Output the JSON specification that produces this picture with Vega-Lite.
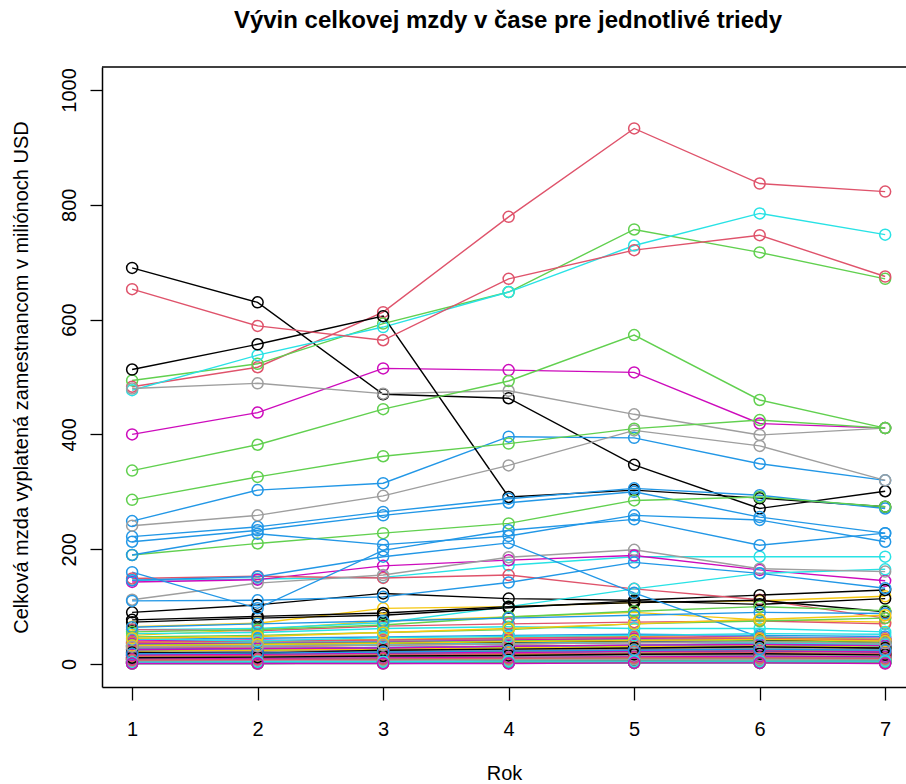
{
"$schema":"https://vega.github.io/schema/vega-lite/v6.json",
"width":804,"height":620,
"autosize":{"type":"none"},
"padding":{"left":102,"top":67,"right":0,"bottom":97},
"background":"white",
"title":{"text":"Vývin celkovej mzdy v čase pre jednotlivé triedy","font":"Liberation Sans","fontSize":24,"fontWeight":"bold","color":"black","anchor":"middle","offset":33,"dx":4},
"config":{"view":{"stroke":null},
"axis":{"grid":false,"domainColor":"black","domainWidth":1.5,"tickColor":"black","tickWidth":1.3,"labelColor":"black","titleColor":"black","labelFont":"Liberation Sans","titleFont":"Liberation Sans","labelFontSize":20,"titleFontSize":20,"titleFontWeight":"normal","labelFlush":false,"labelOverlap":false}},
"data":{"values":[
{"id":1,"rok":1,"mzda":690},{"id":1,"rok":2,"mzda":630},{"id":1,"rok":3,"mzda":470},{"id":1,"rok":4,"mzda":463},{"id":1,"rok":5,"mzda":347},{"id":1,"rok":6,"mzda":271},{"id":1,"rok":7,"mzda":301},
{"id":2,"rok":1,"mzda":483},{"id":2,"rok":2,"mzda":517},{"id":2,"rok":3,"mzda":613},{"id":2,"rok":4,"mzda":779},{"id":2,"rok":5,"mzda":933},{"id":2,"rok":6,"mzda":837},{"id":2,"rok":7,"mzda":823},
{"id":3,"rok":1,"mzda":494},{"id":3,"rok":2,"mzda":523},{"id":3,"rok":3,"mzda":593},{"id":3,"rok":4,"mzda":648},{"id":3,"rok":5,"mzda":757},{"id":3,"rok":6,"mzda":717},{"id":3,"rok":7,"mzda":671},
{"id":4,"rok":1,"mzda":249},{"id":4,"rok":2,"mzda":303},{"id":4,"rok":3,"mzda":315},{"id":4,"rok":4,"mzda":396},{"id":4,"rok":5,"mzda":394},{"id":4,"rok":6,"mzda":349},{"id":4,"rok":7,"mzda":320},
{"id":5,"rok":1,"mzda":477},{"id":5,"rok":2,"mzda":538},{"id":5,"rok":3,"mzda":587},{"id":5,"rok":4,"mzda":648},{"id":5,"rok":5,"mzda":729},{"id":5,"rok":6,"mzda":785},{"id":5,"rok":7,"mzda":748},
{"id":6,"rok":1,"mzda":400},{"id":6,"rok":2,"mzda":438},{"id":6,"rok":3,"mzda":515},{"id":6,"rok":4,"mzda":512},{"id":6,"rok":5,"mzda":508},{"id":6,"rok":6,"mzda":419},{"id":6,"rok":7,"mzda":411},
{"id":7,"rok":1,"mzda":65},{"id":7,"rok":2,"mzda":71},{"id":7,"rok":3,"mzda":97},{"id":7,"rok":4,"mzda":100},{"id":7,"rok":5,"mzda":107},{"id":7,"rok":6,"mzda":110},{"id":7,"rok":7,"mzda":118},
{"id":8,"rok":1,"mzda":480},{"id":8,"rok":2,"mzda":489},{"id":8,"rok":3,"mzda":471},{"id":8,"rok":4,"mzda":476},{"id":8,"rok":5,"mzda":435},{"id":8,"rok":6,"mzda":399},{"id":8,"rok":7,"mzda":411},
{"id":9,"rok":1,"mzda":513},{"id":9,"rok":2,"mzda":557},{"id":9,"rok":3,"mzda":606},{"id":9,"rok":4,"mzda":291},{"id":9,"rok":5,"mzda":303},{"id":9,"rok":6,"mzda":289},{"id":9,"rok":7,"mzda":274},
{"id":10,"rok":1,"mzda":653},{"id":10,"rok":2,"mzda":589},{"id":10,"rok":3,"mzda":564},{"id":10,"rok":4,"mzda":671},{"id":10,"rok":5,"mzda":721},{"id":10,"rok":6,"mzda":747},{"id":10,"rok":7,"mzda":675},
{"id":11,"rok":1,"mzda":337},{"id":11,"rok":2,"mzda":382},{"id":11,"rok":3,"mzda":444},{"id":11,"rok":4,"mzda":493},{"id":11,"rok":5,"mzda":573},{"id":11,"rok":6,"mzda":460},{"id":11,"rok":7,"mzda":411},
{"id":12,"rok":1,"mzda":222},{"id":12,"rok":2,"mzda":239},{"id":12,"rok":3,"mzda":265},{"id":12,"rok":4,"mzda":288},{"id":12,"rok":5,"mzda":306},{"id":12,"rok":6,"mzda":294},{"id":12,"rok":7,"mzda":271},
{"id":13,"rok":1,"mzda":146},{"id":13,"rok":2,"mzda":148},{"id":13,"rok":3,"mzda":151},{"id":13,"rok":4,"mzda":172},{"id":13,"rok":5,"mzda":187},{"id":13,"rok":6,"mzda":187},{"id":13,"rok":7,"mzda":187},
{"id":14,"rok":1,"mzda":143},{"id":14,"rok":2,"mzda":147},{"id":14,"rok":3,"mzda":171},{"id":14,"rok":4,"mzda":181},{"id":14,"rok":5,"mzda":189},{"id":14,"rok":6,"mzda":164},{"id":14,"rok":7,"mzda":145},
{"id":15,"rok":1,"mzda":50},{"id":15,"rok":2,"mzda":60},{"id":15,"rok":3,"mzda":75},{"id":15,"rok":4,"mzda":82},{"id":15,"rok":5,"mzda":90},{"id":15,"rok":6,"mzda":77},{"id":15,"rok":7,"mzda":73},
{"id":16,"rok":1,"mzda":241},{"id":16,"rok":2,"mzda":259},{"id":16,"rok":3,"mzda":293},{"id":16,"rok":4,"mzda":346},{"id":16,"rok":5,"mzda":407},{"id":16,"rok":6,"mzda":380},{"id":16,"rok":7,"mzda":320},
{"id":17,"rok":1,"mzda":90},{"id":17,"rok":2,"mzda":103},{"id":17,"rok":3,"mzda":123},{"id":17,"rok":4,"mzda":114},{"id":17,"rok":5,"mzda":111},{"id":17,"rok":6,"mzda":120},{"id":17,"rok":7,"mzda":129},
{"id":18,"rok":1,"mzda":149},{"id":18,"rok":2,"mzda":153},{"id":18,"rok":3,"mzda":150},{"id":18,"rok":4,"mzda":155},{"id":18,"rok":5,"mzda":131},{"id":18,"rok":6,"mzda":112},{"id":18,"rok":7,"mzda":80},
{"id":19,"rok":1,"mzda":286},{"id":19,"rok":2,"mzda":326},{"id":19,"rok":3,"mzda":362},{"id":19,"rok":4,"mzda":384},{"id":19,"rok":5,"mzda":410},{"id":19,"rok":6,"mzda":425},{"id":19,"rok":7,"mzda":411},
{"id":20,"rok":1,"mzda":213},{"id":20,"rok":2,"mzda":233},{"id":20,"rok":3,"mzda":259},{"id":20,"rok":4,"mzda":281},{"id":20,"rok":5,"mzda":300},{"id":20,"rok":6,"mzda":256},{"id":20,"rok":7,"mzda":228},
{"id":21,"rok":1,"mzda":60},{"id":21,"rok":2,"mzda":62},{"id":21,"rok":3,"mzda":72},{"id":21,"rok":4,"mzda":100},{"id":21,"rok":5,"mzda":131},{"id":21,"rok":6,"mzda":158},{"id":21,"rok":7,"mzda":165},
{"id":22,"rok":1,"mzda":40},{"id":22,"rok":2,"mzda":42},{"id":22,"rok":3,"mzda":39},{"id":22,"rok":4,"mzda":45},{"id":22,"rok":5,"mzda":50},{"id":22,"rok":6,"mzda":47},{"id":22,"rok":7,"mzda":45},
{"id":23,"rok":1,"mzda":28},{"id":23,"rok":2,"mzda":30},{"id":23,"rok":3,"mzda":33},{"id":23,"rok":4,"mzda":35},{"id":23,"rok":5,"mzda":38},{"id":23,"rok":6,"mzda":41},{"id":23,"rok":7,"mzda":37},
{"id":24,"rok":1,"mzda":112},{"id":24,"rok":2,"mzda":141},{"id":24,"rok":3,"mzda":155},{"id":24,"rok":4,"mzda":186},{"id":24,"rok":5,"mzda":199},{"id":24,"rok":6,"mzda":166},{"id":24,"rok":7,"mzda":161},
{"id":25,"rok":1,"mzda":77},{"id":25,"rok":2,"mzda":83},{"id":25,"rok":3,"mzda":89},{"id":25,"rok":4,"mzda":100},{"id":25,"rok":5,"mzda":107},{"id":25,"rok":6,"mzda":111},{"id":25,"rok":7,"mzda":91},
{"id":26,"rok":1,"mzda":60},{"id":26,"rok":2,"mzda":58},{"id":26,"rok":3,"mzda":66},{"id":26,"rok":4,"mzda":70},{"id":26,"rok":5,"mzda":73},{"id":26,"rok":6,"mzda":75},{"id":26,"rok":7,"mzda":70},
{"id":27,"rok":1,"mzda":190},{"id":27,"rok":2,"mzda":210},{"id":27,"rok":3,"mzda":228},{"id":27,"rok":4,"mzda":245},{"id":27,"rok":5,"mzda":285},{"id":27,"rok":6,"mzda":291},{"id":27,"rok":7,"mzda":274},
{"id":28,"rok":1,"mzda":190},{"id":28,"rok":2,"mzda":227},{"id":28,"rok":3,"mzda":208},{"id":28,"rok":4,"mzda":223},{"id":28,"rok":5,"mzda":259},{"id":28,"rok":6,"mzda":251},{"id":28,"rok":7,"mzda":213},
{"id":29,"rok":1,"mzda":53},{"id":29,"rok":2,"mzda":55},{"id":29,"rok":3,"mzda":62},{"id":29,"rok":4,"mzda":65},{"id":29,"rok":5,"mzda":62},{"id":29,"rok":6,"mzda":62},{"id":29,"rok":7,"mzda":56},
{"id":30,"rok":1,"mzda":30},{"id":30,"rok":2,"mzda":32},{"id":30,"rok":3,"mzda":34},{"id":30,"rok":4,"mzda":36},{"id":30,"rok":5,"mzda":38},{"id":30,"rok":6,"mzda":40},{"id":30,"rok":7,"mzda":37},
{"id":31,"rok":1,"mzda":18},{"id":31,"rok":2,"mzda":20},{"id":31,"rok":3,"mzda":22},{"id":31,"rok":4,"mzda":24},{"id":31,"rok":5,"mzda":26},{"id":31,"rok":6,"mzda":28},{"id":31,"rok":7,"mzda":25},
{"id":32,"rok":1,"mzda":36},{"id":32,"rok":2,"mzda":38},{"id":32,"rok":3,"mzda":40},{"id":32,"rok":4,"mzda":43},{"id":32,"rok":5,"mzda":45},{"id":32,"rok":6,"mzda":47},{"id":32,"rok":7,"mzda":44},
{"id":33,"rok":1,"mzda":73},{"id":33,"rok":2,"mzda":80},{"id":33,"rok":3,"mzda":85},{"id":33,"rok":4,"mzda":98},{"id":33,"rok":5,"mzda":110},{"id":33,"rok":6,"mzda":104},{"id":33,"rok":7,"mzda":114},
{"id":34,"rok":1,"mzda":1},{"id":34,"rok":2,"mzda":1},{"id":34,"rok":3,"mzda":2},{"id":34,"rok":4,"mzda":2},{"id":34,"rok":5,"mzda":2},{"id":34,"rok":6,"mzda":3},{"id":34,"rok":7,"mzda":2},
{"id":35,"rok":1,"mzda":56},{"id":35,"rok":2,"mzda":60},{"id":35,"rok":3,"mzda":68},{"id":35,"rok":4,"mzda":82},{"id":35,"rok":5,"mzda":92},{"id":35,"rok":6,"mzda":100},{"id":35,"rok":7,"mzda":93},
{"id":36,"rok":1,"mzda":160},{"id":36,"rok":2,"mzda":97},{"id":36,"rok":3,"mzda":198},{"id":36,"rok":4,"mzda":233},{"id":36,"rok":5,"mzda":252},{"id":36,"rok":6,"mzda":207},{"id":36,"rok":7,"mzda":228},
{"id":37,"rok":1,"mzda":35},{"id":37,"rok":2,"mzda":37},{"id":37,"rok":3,"mzda":39},{"id":37,"rok":4,"mzda":41},{"id":37,"rok":5,"mzda":43},{"id":37,"rok":6,"mzda":45},{"id":37,"rok":7,"mzda":41},
{"id":38,"rok":1,"mzda":20},{"id":38,"rok":2,"mzda":22},{"id":38,"rok":3,"mzda":24},{"id":38,"rok":4,"mzda":25},{"id":38,"rok":5,"mzda":27},{"id":38,"rok":6,"mzda":29},{"id":38,"rok":7,"mzda":27},
{"id":39,"rok":1,"mzda":10},{"id":39,"rok":2,"mzda":11},{"id":39,"rok":3,"mzda":12},{"id":39,"rok":4,"mzda":14},{"id":39,"rok":5,"mzda":15},{"id":39,"rok":6,"mzda":16},{"id":39,"rok":7,"mzda":14},
{"id":40,"rok":1,"mzda":26},{"id":40,"rok":2,"mzda":27},{"id":40,"rok":3,"mzda":29},{"id":40,"rok":4,"mzda":31},{"id":40,"rok":5,"mzda":33},{"id":40,"rok":6,"mzda":35},{"id":40,"rok":7,"mzda":32},
{"id":41,"rok":1,"mzda":25},{"id":41,"rok":2,"mzda":22},{"id":41,"rok":3,"mzda":21},{"id":41,"rok":4,"mzda":21},{"id":41,"rok":5,"mzda":25},{"id":41,"rok":6,"mzda":30},{"id":41,"rok":7,"mzda":27},
{"id":42,"rok":1,"mzda":5},{"id":42,"rok":2,"mzda":6},{"id":42,"rok":3,"mzda":7},{"id":42,"rok":4,"mzda":7},{"id":42,"rok":5,"mzda":8},{"id":42,"rok":6,"mzda":9},{"id":42,"rok":7,"mzda":8},
{"id":43,"rok":1,"mzda":47},{"id":43,"rok":2,"mzda":50},{"id":43,"rok":3,"mzda":55},{"id":43,"rok":4,"mzda":60},{"id":43,"rok":5,"mzda":70},{"id":43,"rok":6,"mzda":75},{"id":43,"rok":7,"mzda":80},
{"id":44,"rok":1,"mzda":146},{"id":44,"rok":2,"mzda":152},{"id":44,"rok":3,"mzda":187},{"id":44,"rok":4,"mzda":211},{"id":44,"rok":5,"mzda":124},{"id":44,"rok":6,"mzda":47},{"id":44,"rok":7,"mzda":42},
{"id":45,"rok":1,"mzda":24},{"id":45,"rok":2,"mzda":25},{"id":45,"rok":3,"mzda":27},{"id":45,"rok":4,"mzda":29},{"id":45,"rok":5,"mzda":31},{"id":45,"rok":6,"mzda":33},{"id":45,"rok":7,"mzda":30},
{"id":46,"rok":1,"mzda":12},{"id":46,"rok":2,"mzda":13},{"id":46,"rok":3,"mzda":14},{"id":46,"rok":4,"mzda":16},{"id":46,"rok":5,"mzda":17},{"id":46,"rok":6,"mzda":18},{"id":46,"rok":7,"mzda":16},
{"id":47,"rok":1,"mzda":4},{"id":47,"rok":2,"mzda":5},{"id":47,"rok":3,"mzda":5},{"id":47,"rok":4,"mzda":6},{"id":47,"rok":5,"mzda":7},{"id":47,"rok":6,"mzda":7},{"id":47,"rok":7,"mzda":6},
{"id":48,"rok":1,"mzda":16},{"id":48,"rok":2,"mzda":17},{"id":48,"rok":3,"mzda":18},{"id":48,"rok":4,"mzda":20},{"id":48,"rok":5,"mzda":21},{"id":48,"rok":6,"mzda":22},{"id":48,"rok":7,"mzda":20},
{"id":49,"rok":1,"mzda":15},{"id":49,"rok":2,"mzda":14},{"id":49,"rok":3,"mzda":18},{"id":49,"rok":4,"mzda":17},{"id":49,"rok":5,"mzda":20},{"id":49,"rok":6,"mzda":22},{"id":49,"rok":7,"mzda":20},
{"id":50,"rok":1,"mzda":10},{"id":50,"rok":2,"mzda":11},{"id":50,"rok":3,"mzda":12},{"id":50,"rok":4,"mzda":13},{"id":50,"rok":5,"mzda":15},{"id":50,"rok":6,"mzda":16},{"id":50,"rok":7,"mzda":14},
{"id":51,"rok":1,"mzda":12},{"id":51,"rok":2,"mzda":13},{"id":51,"rok":3,"mzda":15},{"id":51,"rok":4,"mzda":16},{"id":51,"rok":5,"mzda":18},{"id":51,"rok":6,"mzda":19},{"id":51,"rok":7,"mzda":17},
{"id":52,"rok":1,"mzda":110},{"id":52,"rok":2,"mzda":111},{"id":52,"rok":3,"mzda":117},{"id":52,"rok":4,"mzda":142},{"id":52,"rok":5,"mzda":177},{"id":52,"rok":6,"mzda":158},{"id":52,"rok":7,"mzda":132},
{"id":53,"rok":1,"mzda":14},{"id":53,"rok":2,"mzda":15},{"id":53,"rok":3,"mzda":17},{"id":53,"rok":4,"mzda":18},{"id":53,"rok":5,"mzda":20},{"id":53,"rok":6,"mzda":21},{"id":53,"rok":7,"mzda":19},
{"id":54,"rok":1,"mzda":6},{"id":54,"rok":2,"mzda":7},{"id":54,"rok":3,"mzda":7},{"id":54,"rok":4,"mzda":8},{"id":54,"rok":5,"mzda":9},{"id":54,"rok":6,"mzda":9},{"id":54,"rok":7,"mzda":8},
{"id":55,"rok":1,"mzda":38},{"id":55,"rok":2,"mzda":40},{"id":55,"rok":3,"mzda":43},{"id":55,"rok":4,"mzda":46},{"id":55,"rok":5,"mzda":48},{"id":55,"rok":6,"mzda":45},{"id":55,"rok":7,"mzda":43},
{"id":56,"rok":1,"mzda":8},{"id":56,"rok":2,"mzda":9},{"id":56,"rok":3,"mzda":10},{"id":56,"rok":4,"mzda":11},{"id":56,"rok":5,"mzda":12},{"id":56,"rok":6,"mzda":12},{"id":56,"rok":7,"mzda":11},
{"id":57,"rok":1,"mzda":8},{"id":57,"rok":2,"mzda":9},{"id":57,"rok":3,"mzda":10},{"id":57,"rok":4,"mzda":12},{"id":57,"rok":5,"mzda":13},{"id":57,"rok":6,"mzda":14},{"id":57,"rok":7,"mzda":12},
{"id":58,"rok":1,"mzda":18},{"id":58,"rok":2,"mzda":20},{"id":58,"rok":3,"mzda":22},{"id":58,"rok":4,"mzda":24},{"id":58,"rok":5,"mzda":26},{"id":58,"rok":6,"mzda":25},{"id":58,"rok":7,"mzda":23},
{"id":59,"rok":1,"mzda":22},{"id":59,"rok":2,"mzda":24},{"id":59,"rok":3,"mzda":26},{"id":59,"rok":4,"mzda":28},{"id":59,"rok":5,"mzda":30},{"id":59,"rok":6,"mzda":31},{"id":59,"rok":7,"mzda":29},
{"id":60,"rok":1,"mzda":64},{"id":60,"rok":2,"mzda":70},{"id":60,"rok":3,"mzda":75},{"id":60,"rok":4,"mzda":80},{"id":60,"rok":5,"mzda":85},{"id":60,"rok":6,"mzda":90},{"id":60,"rok":7,"mzda":88},
{"id":61,"rok":1,"mzda":5},{"id":61,"rok":2,"mzda":5},{"id":61,"rok":3,"mzda":6},{"id":61,"rok":4,"mzda":7},{"id":61,"rok":5,"mzda":7},{"id":61,"rok":6,"mzda":8},{"id":61,"rok":7,"mzda":7},
{"id":62,"rok":1,"mzda":2},{"id":62,"rok":2,"mzda":2},{"id":62,"rok":3,"mzda":3},{"id":62,"rok":4,"mzda":3},{"id":62,"rok":5,"mzda":3},{"id":62,"rok":6,"mzda":4},{"id":62,"rok":7,"mzda":3},
{"id":63,"rok":1,"mzda":22},{"id":63,"rok":2,"mzda":24},{"id":63,"rok":3,"mzda":26},{"id":63,"rok":4,"mzda":28},{"id":63,"rok":5,"mzda":30},{"id":63,"rok":6,"mzda":32},{"id":63,"rok":7,"mzda":29},
{"id":64,"rok":1,"mzda":3},{"id":64,"rok":2,"mzda":3},{"id":64,"rok":3,"mzda":4},{"id":64,"rok":4,"mzda":4},{"id":64,"rok":5,"mzda":5},{"id":64,"rok":6,"mzda":5},{"id":64,"rok":7,"mzda":4},
{"id":65,"rok":1,"mzda":4},{"id":65,"rok":2,"mzda":4},{"id":65,"rok":3,"mzda":5},{"id":65,"rok":4,"mzda":6},{"id":65,"rok":5,"mzda":6},{"id":65,"rok":6,"mzda":7},{"id":65,"rok":7,"mzda":6},
{"id":66,"rok":1,"mzda":28},{"id":66,"rok":2,"mzda":30},{"id":66,"rok":3,"mzda":33},{"id":66,"rok":4,"mzda":35},{"id":66,"rok":5,"mzda":38},{"id":66,"rok":6,"mzda":36},{"id":66,"rok":7,"mzda":34},
{"id":67,"rok":1,"mzda":3},{"id":67,"rok":2,"mzda":3},{"id":67,"rok":3,"mzda":4},{"id":67,"rok":4,"mzda":5},{"id":67,"rok":5,"mzda":5},{"id":67,"rok":6,"mzda":6},{"id":67,"rok":7,"mzda":5},
{"id":68,"rok":1,"mzda":43},{"id":68,"rok":2,"mzda":45},{"id":68,"rok":3,"mzda":47},{"id":68,"rok":4,"mzda":50},{"id":68,"rok":5,"mzda":52},{"id":68,"rok":6,"mzda":50},{"id":68,"rok":7,"mzda":48},
{"id":69,"rok":1,"mzda":9},{"id":69,"rok":2,"mzda":10},{"id":69,"rok":3,"mzda":10},{"id":69,"rok":4,"mzda":11},{"id":69,"rok":5,"mzda":12},{"id":69,"rok":6,"mzda":13},{"id":69,"rok":7,"mzda":12},
{"id":70,"rok":1,"mzda":35},{"id":70,"rok":2,"mzda":36},{"id":70,"rok":3,"mzda":38},{"id":70,"rok":4,"mzda":42},{"id":70,"rok":5,"mzda":44},{"id":70,"rok":6,"mzda":42},{"id":70,"rok":7,"mzda":40},
{"id":71,"rok":1,"mzda":13},{"id":71,"rok":2,"mzda":14},{"id":71,"rok":3,"mzda":16},{"id":71,"rok":4,"mzda":17},{"id":71,"rok":5,"mzda":19},{"id":71,"rok":6,"mzda":20},{"id":71,"rok":7,"mzda":18},
{"id":72,"rok":1,"mzda":1},{"id":72,"rok":2,"mzda":1},{"id":72,"rok":3,"mzda":2},{"id":72,"rok":4,"mzda":2},{"id":72,"rok":5,"mzda":2},{"id":72,"rok":6,"mzda":2},{"id":72,"rok":7,"mzda":2},
{"id":73,"rok":1,"mzda":32},{"id":73,"rok":2,"mzda":34},{"id":73,"rok":3,"mzda":36},{"id":73,"rok":4,"mzda":38},{"id":73,"rok":5,"mzda":40},{"id":73,"rok":6,"mzda":42},{"id":73,"rok":7,"mzda":37},
{"id":74,"rok":1,"mzda":3},{"id":74,"rok":2,"mzda":3},{"id":74,"rok":3,"mzda":4},{"id":74,"rok":4,"mzda":4},{"id":74,"rok":5,"mzda":5},{"id":74,"rok":6,"mzda":5},{"id":74,"rok":7,"mzda":4},
{"id":75,"rok":1,"mzda":33},{"id":75,"rok":2,"mzda":35},{"id":75,"rok":3,"mzda":37},{"id":75,"rok":4,"mzda":40},{"id":75,"rok":5,"mzda":42},{"id":75,"rok":6,"mzda":40},{"id":75,"rok":7,"mzda":38},
{"id":76,"rok":1,"mzda":26},{"id":76,"rok":2,"mzda":27},{"id":76,"rok":3,"mzda":29},{"id":76,"rok":4,"mzda":31},{"id":76,"rok":5,"mzda":33},{"id":76,"rok":6,"mzda":35},{"id":76,"rok":7,"mzda":32},
{"id":77,"rok":1,"mzda":1},{"id":77,"rok":2,"mzda":1},{"id":77,"rok":3,"mzda":2},{"id":77,"rok":4,"mzda":2},{"id":77,"rok":5,"mzda":2},{"id":77,"rok":6,"mzda":2},{"id":77,"rok":7,"mzda":2},
{"id":78,"rok":1,"mzda":25},{"id":78,"rok":2,"mzda":27},{"id":78,"rok":3,"mzda":28},{"id":78,"rok":4,"mzda":31},{"id":78,"rok":5,"mzda":33},{"id":78,"rok":6,"mzda":34},{"id":78,"rok":7,"mzda":32},
{"id":79,"rok":1,"mzda":7},{"id":79,"rok":2,"mzda":7},{"id":79,"rok":3,"mzda":8},{"id":79,"rok":4,"mzda":9},{"id":79,"rok":5,"mzda":10},{"id":79,"rok":6,"mzda":10},{"id":79,"rok":7,"mzda":9},
{"id":80,"rok":1,"mzda":20},{"id":80,"rok":2,"mzda":21},{"id":80,"rok":3,"mzda":23},{"id":80,"rok":4,"mzda":25},{"id":80,"rok":5,"mzda":27},{"id":80,"rok":6,"mzda":28},{"id":80,"rok":7,"mzda":26},
{"id":81,"rok":1,"mzda":2},{"id":81,"rok":2,"mzda":2},{"id":81,"rok":3,"mzda":3},{"id":81,"rok":4,"mzda":3},{"id":81,"rok":5,"mzda":3},{"id":81,"rok":6,"mzda":4},{"id":81,"rok":7,"mzda":3},
{"id":82,"rok":1,"mzda":14},{"id":82,"rok":2,"mzda":15},{"id":82,"rok":3,"mzda":16},{"id":82,"rok":4,"mzda":18},{"id":82,"rok":5,"mzda":19},{"id":82,"rok":6,"mzda":20},{"id":82,"rok":7,"mzda":18},
{"id":83,"rok":1,"mzda":7},{"id":83,"rok":2,"mzda":7},{"id":83,"rok":3,"mzda":8},{"id":83,"rok":4,"mzda":9},{"id":83,"rok":5,"mzda":10},{"id":83,"rok":6,"mzda":10},{"id":83,"rok":7,"mzda":9},
{"id":84,"rok":1,"mzda":9},{"id":84,"rok":2,"mzda":10},{"id":84,"rok":3,"mzda":11},{"id":84,"rok":4,"mzda":12},{"id":84,"rok":5,"mzda":13},{"id":84,"rok":6,"mzda":14},{"id":84,"rok":7,"mzda":13},
{"id":85,"rok":1,"mzda":30},{"id":85,"rok":2,"mzda":32},{"id":85,"rok":3,"mzda":34},{"id":85,"rok":4,"mzda":36},{"id":85,"rok":5,"mzda":38},{"id":85,"rok":6,"mzda":37},{"id":85,"rok":7,"mzda":35},
{"id":86,"rok":1,"mzda":9},{"id":86,"rok":2,"mzda":10},{"id":86,"rok":3,"mzda":11},{"id":86,"rok":4,"mzda":12},{"id":86,"rok":5,"mzda":13},{"id":86,"rok":6,"mzda":14},{"id":86,"rok":7,"mzda":13},
{"id":87,"rok":1,"mzda":2},{"id":87,"rok":2,"mzda":2},{"id":87,"rok":3,"mzda":3},{"id":87,"rok":4,"mzda":3},{"id":87,"rok":5,"mzda":3},{"id":87,"rok":6,"mzda":3},{"id":87,"rok":7,"mzda":3},
{"id":88,"rok":1,"mzda":11},{"id":88,"rok":2,"mzda":12},{"id":88,"rok":3,"mzda":13},{"id":88,"rok":4,"mzda":14},{"id":88,"rok":5,"mzda":15},{"id":88,"rok":6,"mzda":16},{"id":88,"rok":7,"mzda":15},
{"id":89,"rok":1,"mzda":11},{"id":89,"rok":2,"mzda":12},{"id":89,"rok":3,"mzda":14},{"id":89,"rok":4,"mzda":15},{"id":89,"rok":5,"mzda":17},{"id":89,"rok":6,"mzda":18},{"id":89,"rok":7,"mzda":16},
{"id":90,"rok":1,"mzda":38},{"id":90,"rok":2,"mzda":40},{"id":90,"rok":3,"mzda":42},{"id":90,"rok":4,"mzda":45},{"id":90,"rok":5,"mzda":47},{"id":90,"rok":6,"mzda":44},{"id":90,"rok":7,"mzda":42},
{"id":91,"rok":1,"mzda":17},{"id":91,"rok":2,"mzda":18},{"id":91,"rok":3,"mzda":20},{"id":91,"rok":4,"mzda":21},{"id":91,"rok":5,"mzda":23},{"id":91,"rok":6,"mzda":24},{"id":91,"rok":7,"mzda":22},
{"id":92,"rok":1,"mzda":2},{"id":92,"rok":2,"mzda":2},{"id":92,"rok":3,"mzda":2},{"id":92,"rok":4,"mzda":3},{"id":92,"rok":5,"mzda":3},{"id":92,"rok":6,"mzda":3},{"id":92,"rok":7,"mzda":3},
{"id":93,"rok":1,"mzda":44},{"id":93,"rok":2,"mzda":40},{"id":93,"rok":3,"mzda":46},{"id":93,"rok":4,"mzda":48},{"id":93,"rok":5,"mzda":50},{"id":93,"rok":6,"mzda":53},{"id":93,"rok":7,"mzda":52},
{"id":94,"rok":1,"mzda":16},{"id":94,"rok":2,"mzda":17},{"id":94,"rok":3,"mzda":19},{"id":94,"rok":4,"mzda":20},{"id":94,"rok":5,"mzda":22},{"id":94,"rok":6,"mzda":23},{"id":94,"rok":7,"mzda":21},
{"id":95,"rok":1,"mzda":32},{"id":95,"rok":2,"mzda":34},{"id":95,"rok":3,"mzda":36},{"id":95,"rok":4,"mzda":39},{"id":95,"rok":5,"mzda":41},{"id":95,"rok":6,"mzda":43},{"id":95,"rok":7,"mzda":40},
{"id":96,"rok":1,"mzda":5},{"id":96,"rok":2,"mzda":6},{"id":96,"rok":3,"mzda":6},{"id":96,"rok":4,"mzda":7},{"id":96,"rok":5,"mzda":8},{"id":96,"rok":6,"mzda":8},{"id":96,"rok":7,"mzda":7},
{"id":97,"rok":1,"mzda":20},{"id":97,"rok":2,"mzda":19},{"id":97,"rok":3,"mzda":24},{"id":97,"rok":4,"mzda":26},{"id":97,"rok":5,"mzda":28},{"id":97,"rok":6,"mzda":30},{"id":97,"rok":7,"mzda":28},
{"id":98,"rok":1,"mzda":7},{"id":98,"rok":2,"mzda":8},{"id":98,"rok":3,"mzda":9},{"id":98,"rok":4,"mzda":10},{"id":98,"rok":5,"mzda":11},{"id":98,"rok":6,"mzda":11},{"id":98,"rok":7,"mzda":10},
{"id":99,"rok":1,"mzda":1},{"id":99,"rok":2,"mzda":1},{"id":99,"rok":3,"mzda":1},{"id":99,"rok":4,"mzda":2},{"id":99,"rok":5,"mzda":2},{"id":99,"rok":6,"mzda":2},{"id":99,"rok":7,"mzda":2},
{"id":100,"rok":1,"mzda":18},{"id":100,"rok":2,"mzda":19},{"id":100,"rok":3,"mzda":21},{"id":100,"rok":4,"mzda":23},{"id":100,"rok":5,"mzda":24},{"id":100,"rok":6,"mzda":26},{"id":100,"rok":7,"mzda":24},
{"id":101,"rok":1,"mzda":3},{"id":101,"rok":2,"mzda":4},{"id":101,"rok":3,"mzda":4},{"id":101,"rok":4,"mzda":5},{"id":101,"rok":5,"mzda":5},{"id":101,"rok":6,"mzda":5},{"id":101,"rok":7,"mzda":5},
{"id":102,"rok":1,"mzda":1},{"id":102,"rok":2,"mzda":1},{"id":102,"rok":3,"mzda":1},{"id":102,"rok":4,"mzda":1},{"id":102,"rok":5,"mzda":2},{"id":102,"rok":6,"mzda":2},{"id":102,"rok":7,"mzda":1},
{"id":103,"rok":1,"mzda":45},{"id":103,"rok":2,"mzda":48},{"id":103,"rok":3,"mzda":55},{"id":103,"rok":4,"mzda":62},{"id":103,"rok":5,"mzda":70},{"id":103,"rok":6,"mzda":78},{"id":103,"rok":7,"mzda":85},
{"id":104,"rok":1,"mzda":30},{"id":104,"rok":2,"mzda":31},{"id":104,"rok":3,"mzda":33},{"id":104,"rok":4,"mzda":35},{"id":104,"rok":5,"mzda":37},{"id":104,"rok":6,"mzda":39},{"id":104,"rok":7,"mzda":36}
]},
"layer":[
{"data":{"values":[{}]},"mark":{"type":"rule","color":"black","strokeWidth":1.5},"encoding":{"y":{"datum":1040,"type":"quantitative"}}},
{"mark":{"type":"line","strokeWidth":1.4},
 "encoding":{
  "x":{"field":"rok","type":"quantitative","scale":{"domain":[0.76,7.166],"nice":false,"zero":false},"axis":{"values":[1,2,3,4,5,6,7],"format":"d","tickSize":13,"labelPadding":19,"labelBaseline":"top","title":"Rok","titleY":92,"titleBaseline":"alphabetic"}},
  "y":{"field":"mzda","type":"quantitative","scale":{"domain":[-40,1040],"nice":false,"zero":false},"axis":{"values":[0,200,400,600,800,1000],"format":"d","tickSize":12,"labelAngle":270,"labelAlign":"center","labelBaseline":"alphabetic","labelPadding":15,"title":"Celková mzda vyplatená zamestnancom v miliónoch USD","titleAngle":270,"titleX":-75,"titleY":310,"titleAlign":"center","titleBaseline":"alphabetic"}},
  "color":{"field":"id","type":"ordinal","legend":null,"scale":{"range":["#000000","#DF536B","#61D04F","#2297E6","#28E2E5","#CD0BBC","#F5C710","#9E9E9E"]}}
 }},
{"mark":{"type":"point","shape":"circle","filled":false,"size":121,"strokeWidth":1.5,"opacity":1},
 "encoding":{
  "x":{"field":"rok","type":"quantitative"},
  "y":{"field":"mzda","type":"quantitative"},
  "color":{"field":"id","type":"ordinal","legend":null}
 }}
]
}
